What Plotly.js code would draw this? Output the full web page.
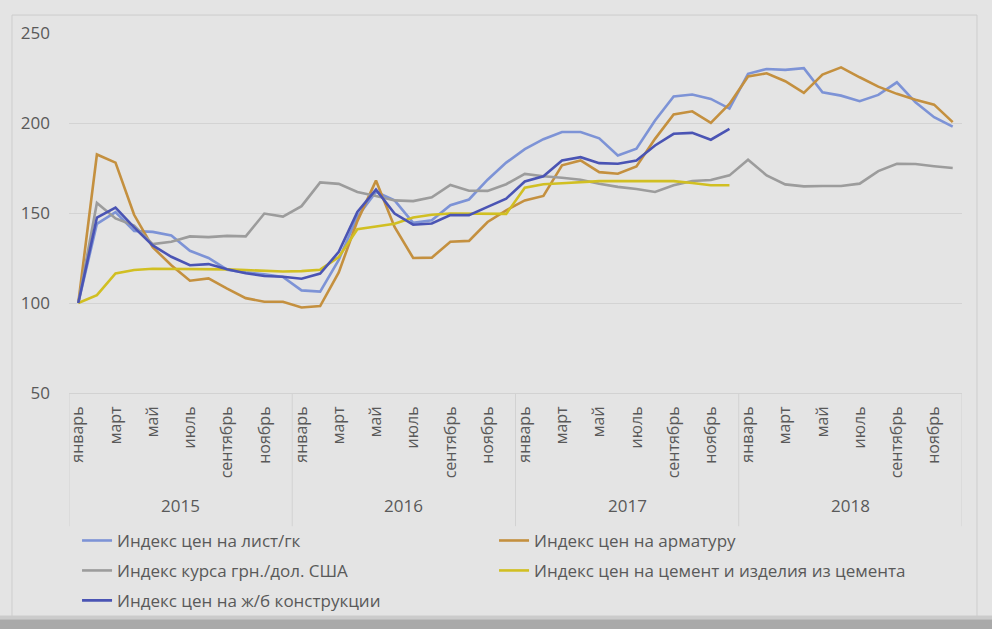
<!DOCTYPE html>
<html>
<head>
<meta charset="utf-8">
<script src="https://cdn.plot.ly/plotly-3.0.1.min.js"></script>
<style>
html,body{margin:0;padding:0;background:#e4e4e4;}
#chart{width:992px;height:629px;}
</style>
</head>
<body>
<div id="chart"></div>
<script>
const years = ['2015','2016','2017','2018'];
const monthNames = ['январь','февраль','март','апрель','май','июнь','июль','август','сентябрь','октябрь','ноябрь','декабрь'];

const seriesNames = [
  'Индекс цен на лист/гк',
  'Индекс цен на арматуру',
  'Индекс курса грн./дол. США',
  'Индекс цен на цемент и изделия из цемента',
  'Индекс цен на ж/б конструкции'
];

const sheet = [100,144,150.5,140,139.5,137.5,129,125,118.5,117,116,114.5,
  107,106.3,124,148,161.7,157,144.5,146,154.3,157.5,168.5,178,
  185.5,191,195,195,191.5,182,185.7,201.4,214.7,215.8,213.4,208,
  227.3,230,229.5,230.5,217,215.2,212.1,215.6,222.6,211.5,203.2,198];

const rebar = [100,182.5,178,149,131,121,112.4,113.7,108,102.7,100.7,100.7,
  97.5,98.3,117,145.5,168,142.3,125,125.2,134,134.5,145,151.5,
  157,159.5,176.5,179.2,172.7,171.8,175.9,191.2,204.7,206.5,200.1,210.6,
  225.8,227.6,223.2,216.7,226.9,230.9,225.4,220.2,216.2,212.9,210.2,200.5];

const usd = [100,155.6,147,143,132.7,134,137,136.6,137.3,137,149.7,148,
  153.8,167,166.2,161.7,159.5,157,156.6,158.7,165.6,162.4,162.3,166,
  171.7,170.4,169.6,168.5,166.3,164.5,163.3,161.7,165.4,167.8,168.3,170.9,
  179.6,170.9,165.9,164.8,165,165,166.3,173.3,177.4,177.2,176,175];

const cement = [100,104.4,116.4,118.3,119,119,118.7,118.7,118.7,118.3,118,117.5,
  117.7,118.5,125.5,141,142.5,144,147.5,149,149.7,149.7,149.5,149.5,
  164,166,166.5,167.2,167.7,167.7,167.7,167.7,167.7,166.7,165.4,165.4,
  null,null,null,null,null,null,null,null,null,null,null,null];

const concrete = [100,147.5,153,142,132,125.7,121,121.6,118.7,116.5,115,114.6,
  113.5,116.4,128.4,150.6,163,149.7,143.5,144.2,148.8,148.8,153.4,158,
  167.5,170.4,179.2,181,177.7,177.4,179.2,187.5,194,194.5,190.7,196.8,
  null,null,null,null,null,null,null,null,null,null,null,null];

const colors = ['#7d93d6','#c4903f','#9c9c9c','#d1bf22','#4a54b4'];
const legendIds = ['legend','legend','legend2','legend2','legend3'];
const data = [sheet, rebar, usd, cement, concrete];

const xIdx = [];
const tickVals = [];
const tickText = [];
years.forEach((y, yi) => {
  monthNames.forEach((m, mi) => {
    const i = yi * 12 + mi;
    xIdx.push(i);
    if (mi % 2 === 0) { tickVals.push(i); tickText.push(m); }
  });
});

const traces = data.map((vals, k) => ({
  type: 'scatter',
  mode: 'lines',
  x: xIdx,
  y: vals,
  name: seriesNames[k],
  line: {color: colors[k], width: 2.6},
  legend: legendIds[k],
  hoverinfo: 'skip'
}));

const textColor = '#595959';
const boxLine = '#d2d2d2';
const boxBottom = -0.37;

const shapes = [];
for (let yi = 0; yi <= years.length; yi++) {
  const xv = yi * 12 - 0.5;
  shapes.push({type:'line', xref:'x', yref:'paper', x0:xv, x1:xv, y0:0, y1:boxBottom,
    line:{color:boxLine, width:1}});
}
// outer chart frame
shapes.push({type:'rect', xref:'paper', yref:'paper',
  x0:-57/893, x1:1.0 + 15/893, y0:1 + 18/361, y1:-226/361,
  line:{color:'#cdcdcd', width:1}, fillcolor:'rgba(0,0,0,0)', layer:'below'});
// dark band at the bottom of the frame
shapes.push({type:'rect', xref:'paper', yref:'paper',
  x0:-69/893, x1:923/893, y0:-227/361, y1:-240/361,
  line:{width:0}, fillcolor:'#a9a9a9', layer:'below'});
shapes.push({type:'rect', xref:'paper', yref:'paper',
  x0:-69/893, x1:923/893, y0:-223/361, y1:-227/361,
  line:{width:0}, fillcolor:'#cbcbcb', layer:'below'});

const annotations = years.map((y, yi) => ({
  xref:'x', yref:'paper', x: yi * 12 + 5.5, y: -0.313,
  text: y, showarrow:false, yanchor:'middle', xanchor:'center',
  font:{family:'Open Sans, sans-serif', size:17, color:textColor}
}));

const legendBase = {
  orientation:'h', xanchor:'left', yanchor:'middle', x:0.009,
  bgcolor:'rgba(0,0,0,0)', entrywidth:372, itemwidth:30,
  font:{family:'Open Sans, sans-serif', size:17, color:textColor}
};

const layout = {
  width:992, height:629,
  paper_bgcolor:'#e4e4e4', plot_bgcolor:'#e4e4e4',
  margin:{l:69, r:30, t:33, b:235},
  showlegend:true,
  xaxis:{
    type:'linear', range:[-0.5, 47.5], tickmode:'array',
    tickvals:tickVals, ticktext:tickText, tickangle:-90,
    showgrid:false, zeroline:false, showline:true, linecolor:boxLine, linewidth:1,
    ticks:'', ticklabelstandoff:6,
    tickfont:{family:'Open Sans, sans-serif', size:16, color:textColor}
  },
  yaxis:{
    range:[50, 250], tickvals:[50,100,150,200,250],
    showgrid:true, gridcolor:'#d3d3d3', gridwidth:1, zeroline:false,
    showline:false, ticks:'', ticklabelstandoff:18,
    tickfont:{family:'Open Sans, sans-serif', size:17, color:textColor}
  },
  legend: Object.assign({}, legendBase, {y:-0.407}),
  legend2: Object.assign({}, legendBase, {y:-0.490}),
  legend3: Object.assign({}, legendBase, {y:-0.573}),
  shapes: shapes,
  annotations: annotations
};

Plotly.newPlot('chart', traces, layout, {displayModeBar:false, staticPlot:true});
</script>
</body>
</html>
